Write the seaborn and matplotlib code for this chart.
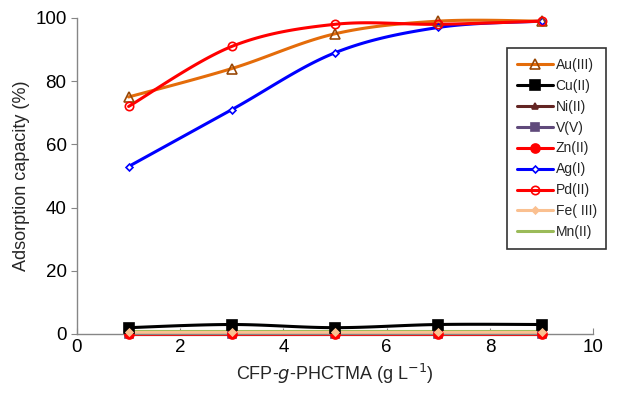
import numpy as np
import pandas as pd
import matplotlib
matplotlib.use("Agg")
import matplotlib.pyplot as plt
from matplotlib.lines import Line2D
import seaborn as sns

dose = [1, 3, 5, 7, 9]
au = [75, 84, 95, 99, 99]
cu = [2, 3, 2, 3, 3]
ni = [0, 0, 0, 0, 0]
v = [0, 0, 0, 0, 0]
zn = [0, 0, 0, 0, 0]
ag = [53, 71, 89, 97, 99]
pd_ = [72, 91, 98, 98, 99]
fe = [0.6, 0.6, 0.6, 0.6, 0.6]
mn = [0.8, 0.8, 0.8, 0.8, 0.8]

# name, values, line colour, marker, marker face, marker edge, marker size
series = [
    ("V(V)", v, "#604A7B", "s", "#604A7B", "#604A7B", 6),
    ("Ni(II)", ni, "#632523", "^", "#632523", "#632523", 5),
    ("Zn(II)", zn, "#FF0000", "o", "#FF0000", "#FF0000", 6.5),
    ("Cu(II)", cu, "#000000", "s", "#000000", "#000000", 6.5),
    ("Mn(II)", mn, "#9BBB59", None, None, None, 0),
    ("Fe( III)", fe, "#FAC090", "D", "#FAC090", "#FAC090", 3.5),
    ("Ag(I)", ag, "#0000FF", "D", "white", "#0000FF", 3.5),
    ("Au(III)", au, "#E46C0A", "^", "none", "#984807", 7.5),
    ("Pd(II)", pd_, "#FF0000", "o", "none", "#FF0000", 6),
]
legend_order = ["Au(III)", "Cu(II)", "Ni(II)", "V(V)", "Zn(II)",
                "Ag(I)", "Pd(II)", "Fe( III)", "Mn(II)"]


def smooth(x, y, n=30):
    # excel-style smoothed line (bezier through the points)
    x = np.asarray(x, float)
    y = np.asarray(y, float)
    px = np.concatenate([[x[0]], x, [x[-1]]])
    py = np.concatenate([[y[0]], y, [y[-1]]])
    xs, ys = [], []
    t = np.linspace(0, 1, n)
    for i in range(1, len(x)):
        p0 = np.array([px[i], py[i]])
        p3 = np.array([px[i + 1], py[i + 1]])
        c1 = p0 + (np.array([px[i + 1], py[i + 1]]) - np.array([px[i - 1], py[i - 1]])) / 6
        c2 = p3 - (np.array([px[i + 2], py[i + 2]]) - np.array([px[i], py[i]])) / 6
        b = ((1 - t) ** 3)[:, None] * p0 + (3 * (1 - t) ** 2 * t)[:, None] * c1 \
            + (3 * (1 - t) * t ** 2)[:, None] * c2 + (t ** 3)[:, None] * p3
        xs.extend(b[:, 0])
        ys.extend(b[:, 1])
    return np.array(xs), np.array(ys)


sns.set_style("white")
plt.rcParams["font.family"] = ["Liberation Sans", "DejaVu Sans"]

fig = plt.figure(figsize=(6.33, 3.96), dpi=100)
ax = fig.add_axes([0.1216, 0.1566, 0.8154, 0.798])

handles = {}
for name, vals, col, mk, mfc, mec, ms in series:
    sx, sy = smooth(dose, vals)
    sns.lineplot(x=sx, y=sy, sort=False, color=col, linewidth=2.2, ax=ax,
                 estimator=None, clip_on=False)
    if mk is not None:
        ax.plot(dose, vals, linestyle="none", marker=mk, markersize=ms,
                markerfacecolor=mfc, markeredgecolor=mec, markeredgewidth=1.2,
                clip_on=False, zorder=3)
    handles[name] = Line2D([], [], color=col, linewidth=2.2, marker=mk,
                           markersize=ms, markerfacecolor=mfc,
                           markeredgecolor=mec, markeredgewidth=1.2)

ax.set_xlim(0, 10)
ax.set_ylim(0, 100)
ax.set_xticks(range(0, 11, 2))
ax.set_yticks(range(0, 101, 20))
ax.tick_params(axis="both", labelsize=13.5, colors="#000000")
ax.tick_params(axis="x", direction="in", length=4, color="#868686", bottom=True)
ax.tick_params(axis="y", direction="out", length=4, color="#868686", left=True)
for s in ["top", "right"]:
    ax.spines[s].set_visible(False)
for s in ["left", "bottom"]:
    ax.spines[s].set_color("#868686")
    ax.spines[s].set_linewidth(1.0)

ax.set_xlabel("CFP-$\\it{g}$-PHCTMA (g L$^{-1}$)", fontsize=13)
ax.set_ylabel("Adsorption capacity (%)", fontsize=13)

leg = ax.legend([handles[n] for n in legend_order], legend_order,
                loc="upper left", bbox_to_anchor=(0.833, 0.905),
                fontsize=10, frameon=True, fancybox=False, handlelength=2.6,
                labelspacing=0.5, borderpad=0.7, handletextpad=0.2,
                borderaxespad=0)
leg.get_frame().set_edgecolor("#000000")
leg.get_frame().set_linewidth(1.2)

fig.savefig("out.png", dpi=100)
